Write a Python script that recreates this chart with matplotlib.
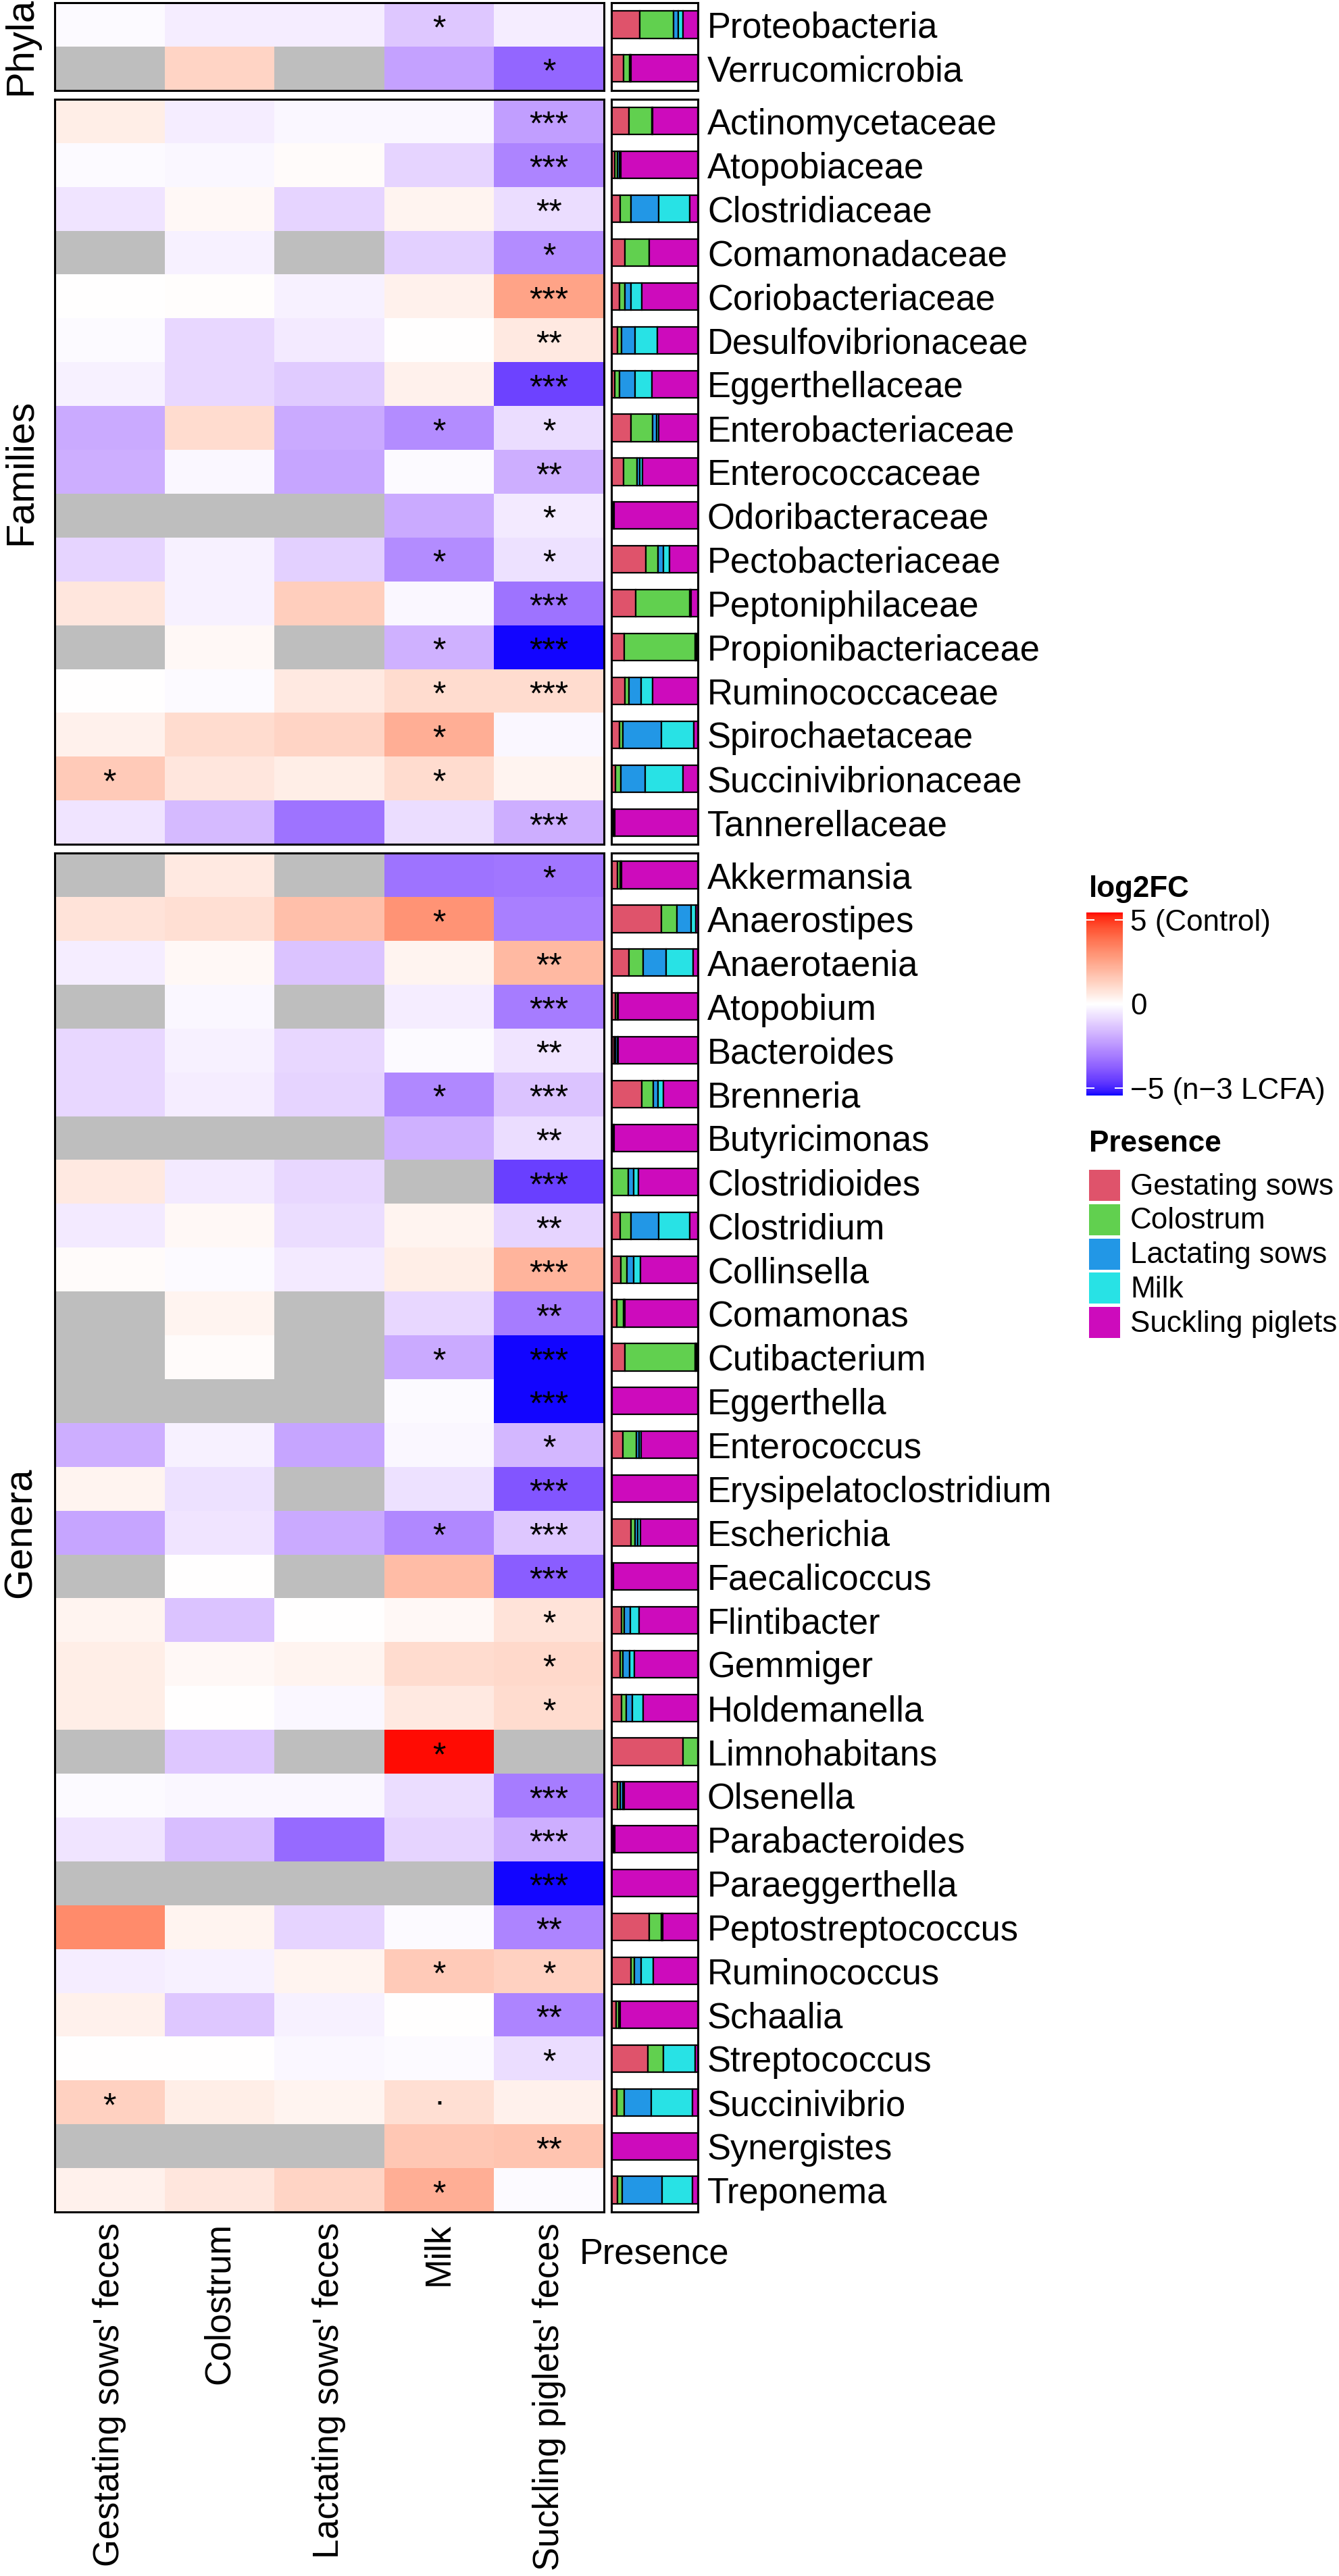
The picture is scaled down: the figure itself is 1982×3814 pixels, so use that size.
"""
Differential abundance heatmap (log2FC, n-3 LCFA vs Control) per sample type,
with a stacked 'Presence' bar per taxon. Phyla / Families / Genera panels.
"""
import numpy as np
import matplotlib
matplotlib.use('Agg')
import matplotlib.pyplot as plt
import matplotlib.transforms as mtransforms
from matplotlib.colors import ListedColormap, Normalize
from matplotlib.cm import ScalarMappable
from matplotlib.patches import Rectangle

plt.rcParams['font.family'] = ['Liberation Sans', 'DejaVu Sans']

nan = np.nan

# ---------------------------------------------------------------- data
sample_types = ["Gestating sows' feces", 'Colostrum', "Lactating sows' feces",
                'Milk', "Suckling piglets' feces"]
presence_sources = ['Gestating sows', 'Colostrum', 'Lactating sows', 'Milk',
                    'Suckling piglets']
presence_colors = ['#DF536B', '#61D04F', '#2297E6', '#28E2E5', '#CD0BBC']

phyla_names = ['Proteobacteria', 'Verrucomicrobia']
phyla_lfc = [
    [-0.1, -0.4, -0.4, -1.3, -0.4],
    [nan, 1.2, nan, -2.2, -3.6],
]
phyla_sig = [
    ['', '', '', '*', ''],
    ['', '', '', '', '*'],
]
phyla_pres = [
    [.33, .39, .05, .06, .17],
    [.14, .07, .01, .01, .77],
]

family_names = ['Actinomycetaceae', 'Atopobiaceae', 'Clostridiaceae',
                'Comamonadaceae', 'Coriobacteriaceae', 'Desulfovibrionaceae',
                'Eggerthellaceae', 'Enterobacteriaceae', 'Enterococcaceae',
                'Odoribacteraceae', 'Pectobacteriaceae', 'Peptoniphilaceae',
                'Propionibacteriaceae', 'Ruminococcaceae', 'Spirochaetaceae',
                'Succinivibrionaceae', 'Tannerellaceae']
family_lfc = [
    [0.5, -0.4, -0.2, -0.2, -2.3],
    [-0.1, -0.2, 0.1, -1.0, -2.9],
    [-0.6, 0.2, -1.0, 0.3, -0.8],
    [nan, -0.3, nan, -1.1, -2.7],
    [0.0, 0.05, -0.3, 0.4, 2.6],
    [-0.1, -0.9, -0.5, 0.0, 0.6],
    [-0.3, -0.9, -1.2, 0.4, -4.4],
    [-2.0, 1.0, -2.0, -2.7, -0.8],
    [-1.9, -0.2, -2.1, -0.1, -1.9],
    [nan, nan, nan, -2.0, -0.5],
    [-1.0, -0.3, -1.1, -2.7, -0.7],
    [0.7, -0.3, 1.4, -0.2, -3.3],
    [nan, 0.2, nan, -1.8, -5.4],
    [0.0, -0.1, 0.6, 1.0, 1.0],
    [0.4, 1.0, 1.2, 2.3, -0.2],
    [1.5, 0.7, 0.5, 1.0, 0.3],
    [-0.6, -1.6, -3.3, -0.8, -1.9],
]
family_sig = [
    ['', '', '', '', '***'],
    ['', '', '', '', '***'],
    ['', '', '', '', '**'],
    ['', '', '', '', '*'],
    ['', '', '', '', '***'],
    ['', '', '', '', '**'],
    ['', '', '', '', '***'],
    ['', '', '', '*', '*'],
    ['', '', '', '', '**'],
    ['', '', '', '', '*'],
    ['', '', '', '*', '*'],
    ['', '', '', '', '***'],
    ['', '', '', '*', '***'],
    ['', '', '', '*', '***'],
    ['', '', '', '*', ''],
    ['*', '', '', '*', ''],
    ['', '', '', '', '***'],
]
family_pres = [
    [.20, .27, .005, .005, .52],
    [.04, .03, .02, .02, .89],
    [.10, .13, .32, .36, .09],
    [.16, .28, 0, 0, .56],
    [.09, .07, .07, .12, .65],
    [.07, .05, .15, .26, .47],
    [.04, .05, .18, .20, .53],
    [.23, .25, .04, .03, .45],
    [.14, .16, .03, .03, .64],
    [.02, .01, 0, 0, .97],
    [.40, .14, .06, .07, .33],
    [.28, .63, .005, .005, .08],
    [.15, .82, .01, .01, .01],
    [.16, .04, .14, .14, .52],
    [.09, .04, .45, .37, .05],
    [.05, .06, .28, .44, .17],
    [.02, .01, .01, 0, .96],
]

genus_names = ['Akkermansia', 'Anaerostipes', 'Anaerotaenia', 'Atopobium',
               'Bacteroides', 'Brenneria', 'Butyricimonas', 'Clostridioides',
               'Clostridium', 'Collinsella', 'Comamonas', 'Cutibacterium',
               'Eggerthella', 'Enterococcus', 'Erysipelatoclostridium',
               'Escherichia', 'Faecalicoccus', 'Flintibacter', 'Gemmiger',
               'Holdemanella', 'Limnohabitans', 'Olsenella', 'Parabacteroides',
               'Paraeggerthella', 'Peptostreptococcus', 'Ruminococcus',
               'Schaalia', 'Streptococcus', 'Succinivibrio', 'Synergistes',
               'Treponema']
genus_lfc = [
    [nan, 0.6, nan, -3.3, -3.2],
    [0.8, 0.9, 1.8, 3.0, -3.0],
    [-0.4, 0.2, -1.4, 0.3, 2.0],
    [nan, -0.2, nan, -0.4, -3.1],
    [-0.9, -0.3, -0.9, -0.1, -0.6],
    [-0.9, -0.4, -1.0, -2.8, -1.4],
    [nan, nan, nan, -1.8, -0.8],
    [0.6, -0.5, -0.9, nan, -4.5],
    [-0.5, 0.2, -0.8, 0.3, -1.0],
    [0.1, -0.1, -0.5, 0.5, 2.1],
    [nan, 0.3, nan, -0.9, -3.1],
    [nan, 0.1, nan, -2.0, -5.4],
    [nan, nan, nan, -0.1, -5.4],
    [-1.9, -0.3, -2.1, -0.2, -1.7],
    [0.3, -0.7, nan, -0.7, -4.0],
    [-2.1, -0.6, -2.0, -2.8, -1.3],
    [nan, 0.0, nan, 1.9, -3.8],
    [0.3, -1.4, 0.0, 0.2, 0.8],
    [0.5, 0.2, 0.3, 1.0, 1.1],
    [0.5, 0.0, -0.2, 0.6, 1.0],
    [nan, -1.3, nan, 5.4, nan],
    [-0.1, -0.2, -0.2, -0.8, -3.1],
    [-0.6, -1.5, -3.5, -1.0, -1.9],
    [nan, nan, nan, nan, -5.4],
    [3.2, 0.3, -1.0, -0.1, -2.9],
    [-0.4, -0.3, 0.3, 1.5, 1.3],
    [0.4, -1.3, -0.3, 0.0, -2.9],
    [0.0, 0.0, -0.2, -0.1, -0.8],
    [1.3, 0.5, 0.3, 0.9, 0.4],
    [nan, nan, nan, 1.6, 1.7],
    [0.4, 0.7, 1.2, 2.3, -0.1],
]
genus_sig = [
    ['', '', '', '', '*'],
    ['', '', '', '*', ''],
    ['', '', '', '', '**'],
    ['', '', '', '', '***'],
    ['', '', '', '', '**'],
    ['', '', '', '*', '***'],
    ['', '', '', '', '**'],
    ['', '', '', '', '***'],
    ['', '', '', '', '**'],
    ['', '', '', '', '***'],
    ['', '', '', '', '**'],
    ['', '', '', '*', '***'],
    ['', '', '', '', '***'],
    ['', '', '', '', '*'],
    ['', '', '', '', '***'],
    ['', '', '', '*', '***'],
    ['', '', '', '', '***'],
    ['', '', '', '', '*'],
    ['', '', '', '', '*'],
    ['', '', '', '', '*'],
    ['', '', '', '*', ''],
    ['', '', '', '', '***'],
    ['', '', '', '', '***'],
    ['', '', '', '', '***'],
    ['', '', '', '', '**'],
    ['', '', '', '*', '*'],
    ['', '', '', '', '**'],
    ['', '', '', '', '*'],
    ['*', '', '', '.', ''],
    ['', '', '', '', '**'],
    ['', '', '', '*', ''],
]
genus_pres = [
    [.07, .03, .01, .01, .88],
    [.58, .18, .16, .06, .02],
    [.205, .16, .267, .315, .053],
    [.05, .02, .01, 0, .92],
    [.03, .02, .02, .01, .92],
    [.355, .133, .053, .064, .395],
    [.02, .01, 0, 0, .97],
    [.005, .19, .06, .06, .685],
    [.10, .13, .32, .36, .09],
    [.107, .072, .08, .08, .66],
    [.06, .085, .005, .005, .85],
    [.16, .81, .01, .01, .01],
    [.005, 0, 0, 0, .995],
    [.13, .16, .03, .02, .66],
    [.005, 0, 0, 0, .995],
    [.227, .048, .032, .027, .667],
    [.01, .01, 0, 0, .98],
    [.12, .032, .07, .10, .68],
    [.10, .035, .08, .048, .74],
    [.12, .053, .067, .125, .635],
    [.83, .17, 0, 0, 0],
    [.07, .03, .03, .02, .85],
    [.02, .01, .01, 0, .96],
    [0, 0, 0, 0, 1.0],
    [.435, .145, .005, .005, .41],
    [.227, .04, .08, .14, .513],
    [.055, .03, .015, 0, .90],
    [.42, .18, .005, .365, .03],
    [.06, .085, .315, .48, .06],
    [.005, 0, 0, 0, .995],
    [.072, .053, .46, .355, .06],
]

groups = [
    ('Phyla', phyla_names, phyla_lfc, phyla_sig, phyla_pres),
    ('Families', family_names, family_lfc, family_sig, family_pres),
    ('Genera', genus_names, genus_lfc, genus_sig, genus_pres),
]

LIM = 5.46  # colour scale limits (symmetric)


# ------------------------------------------------ Lab gradient (white mid)
def srgb_to_lab(rgb):
    rgb = np.asarray(rgb, float)
    lin = np.where(rgb <= 0.04045, rgb / 12.92, ((rgb + 0.055) / 1.055) ** 2.4)
    M = np.array([[0.4124564, 0.3575761, 0.1804375],
                  [0.2126729, 0.7151522, 0.0721750],
                  [0.0193339, 0.1191920, 0.9503041]])
    xyz = lin @ M.T / np.array([0.95047, 1.0, 1.08883])
    d = 6 / 29
    f = np.where(xyz > d ** 3, np.cbrt(xyz), xyz / (3 * d * d) + 4 / 29)
    return np.stack([116 * f[..., 1] - 16,
                     500 * (f[..., 0] - f[..., 1]),
                     200 * (f[..., 1] - f[..., 2])], axis=-1)


def lab_to_srgb(lab):
    lab = np.asarray(lab, float)
    fy = (lab[..., 0] + 16) / 116
    fx = fy + lab[..., 1] / 500
    fz = fy - lab[..., 2] / 200
    d = 6 / 29
    f = np.stack([fx, fy, fz], axis=-1)
    xyz = np.where(f > d, f ** 3, 3 * d * d * (f - 4 / 29))
    xyz = xyz * np.array([0.95047, 1.0, 1.08883])
    Minv = np.array([[3.2404542, -1.5371385, -0.4985314],
                     [-0.9692660, 1.8760108, 0.0415560],
                     [0.0556434, -0.2040259, 1.0572252]])
    lin = np.clip(xyz @ Minv.T, 0, 1)
    rgb = np.where(lin <= 0.0031308, 12.92 * lin, 1.055 * lin ** (1 / 2.4) - 0.055)
    return np.clip(rgb, 0, 1)


def diverging_lab(low, mid, high, n=256):
    lo, mi, hi = srgb_to_lab([low, mid, high])
    t = np.linspace(-1, 1, n)[:, None]
    lab = np.where(t < 0, mi + (lo - mi) * (-t), mi + (hi - mi) * t)
    return ListedColormap(lab_to_srgb(lab))


cmap = diverging_lab((0, 0, 1), (1, 1, 1), (1, 0, 0))
cmap.set_bad('#BEBEBE')
norm = Normalize(-LIM, LIM)

# ---------------------------------------------------------------- layout
W, H = 1983, 3814
fig = plt.figure(figsize=(W / 100, H / 100), dpi=100)
PX = 0.72  # points per pixel at dpi 100


def px_axes(x0, y0, x1, y1):
    return fig.add_axes([x0 / W, 1 - y1 / H, (x1 - x0) / W, (y1 - y0) / H])


HX0, HX1 = 81, 894      # heatmap panel
PX0, PX1 = 905, 1033    # presence panel
TOP, ROW_H, GAP = 4, 64.9, 13
LABEL_PT = 52.5 * PX
STAR_PT = 50 * PX

y = TOP
for gi, (strip, names, lfc, sig, pres) in enumerate(groups):
    n = len(names)
    y1 = y + n * ROW_H
    ax = px_axes(HX0, y, HX1, y1)
    vals = np.ma.masked_invalid(np.array(lfc, float))
    ax.pcolormesh(np.arange(6), np.arange(n + 1), vals, cmap=cmap, norm=norm,
                  shading='flat', edgecolor='none', antialiased=False)
    ax.set_xlim(0, 5)
    ax.set_ylim(n, 0)
    ax.set_yticks([])
    for s in ax.spines.values():
        s.set_linewidth(2.2)

    star_off = mtransforms.offset_copy(ax.transData, fig=fig, y=-20.5 * PX, units='points')
    dot_off = mtransforms.offset_copy(ax.transData, fig=fig, y=-3 * PX, units='points')
    for i in range(n):
        for j in range(5):
            lab = sig[i][j]
            if lab:
                ax.text(j + 0.5, i + 0.5, lab, ha='center', va='baseline',
                        fontsize=STAR_PT, color='black',
                        transform=star_off if '*' in lab else dot_off)

    axp = px_axes(PX0, y, PX1, y1)
    for i in range(n):
        fr = np.array(pres[i], float)
        fr = fr / fr.sum()
        left = 0.0
        for k in range(5):
            if fr[k] > 0:
                axp.barh(i + 0.5, fr[k], left=left, height=0.62,
                         color=presence_colors[k], edgecolor='black', linewidth=1.6)
            left += fr[k]
    axp.set_xlim(0, 1)
    axp.set_ylim(n, 0)
    axp.yaxis.tick_right()
    axp.set_yticks(np.arange(n) + 0.5, names, fontsize=LABEL_PT)
    axp.tick_params(axis='y', length=0, pad=14 * PX)
    for s in axp.spines.values():
        s.set_linewidth(2.2)

    if gi == len(groups) - 1:
        ax.set_xticks(np.arange(5) + 0.5, sample_types, rotation=90,
                      fontsize=LABEL_PT)
        ax.tick_params(axis='x', length=0, pad=16 * PX)
        axp.set_xticks([])
        fig.text((PX0 + PX1) / 2 / W, 1 - 3352 / H, 'Presence', ha='center',
                 va='baseline', fontsize=LABEL_PT)
    else:
        ax.set_xticks([])
        axp.set_xticks([])

    fig.text(46 / W, 1 - (y + y1) / 2 / H, strip, rotation=90,
             rotation_mode='anchor', ha='center', va='baseline',
             fontsize=58 * PX)
    y = y1 + GAP

# ---------------------------------------------------------------- legends
LEG_PT = 44 * PX
LEG_X, LEG_TXT_X = 1612, 1673
fig.text(LEG_X / W, 1 - 1328 / H, 'log2FC', fontsize=LEG_PT, fontweight='bold',
         ha='left', va='baseline')
cax = px_axes(1608, 1351, 1662, 1622)
cb = fig.colorbar(ScalarMappable(norm=norm, cmap=cmap), cax=cax)
cb.outline.set_visible(False)
cb.set_ticks([-5, 0, 5], labels=['\u22125 (n\u22123 LCFA)', '0', '5 (Control)'])
cax.tick_params(direction='in', length=12 * PX, width=2 * PX, color='white',
                left=True, right=True, labelsize=LEG_PT, pad=11 * PX)

fig.text(LEG_X / W, 1 - 1705 / H, 'Presence', fontsize=LEG_PT,
         fontweight='bold', ha='left', va='baseline')
KEY, KEY_STEP, KEY_TOP = 46, 50.8, 1732
for k, (c, lab) in enumerate(zip(presence_colors, presence_sources)):
    top = KEY_TOP + k * KEY_STEP
    fig.patches.append(Rectangle((LEG_X / W, 1 - (top + KEY) / H), KEY / W,
                                 KEY / H, transform=fig.transFigure,
                                 facecolor=c, edgecolor='none'))
    fig.text(LEG_TXT_X / W, 1 - (top + KEY / 2 + 2) / H, lab,
             fontsize=LEG_PT, ha='left', va='center')

fig.savefig('out.png', dpi=100, facecolor='white')
